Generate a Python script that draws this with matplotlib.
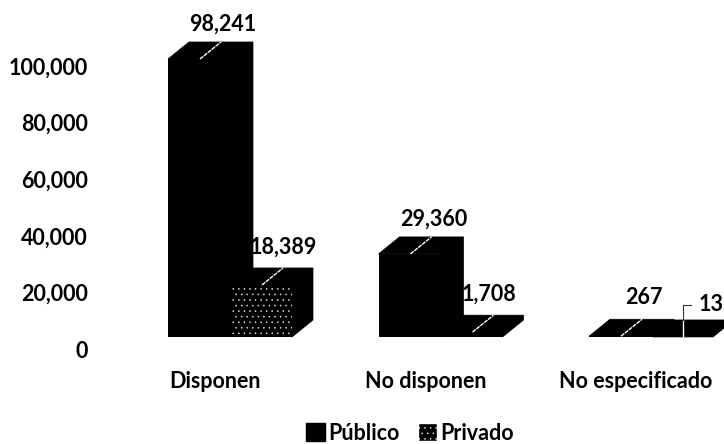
import matplotlib
matplotlib.use("Agg")
import matplotlib.pyplot as plt
from matplotlib.patches import Patch, Polygon

categories = ["Disponen", "No disponen", "No especificado"]
publico = [98241, 29360, 267]
privado = [18389, 1708, 13]
y_ticks = [0, 20000, 40000, 60000, 80000, 100000]

W, H = 724, 444
PX_X = 210.5           # pixels per category
PX_Y = 2.83 / 1000     # pixels per unit
WIDTH_PUB = 64 / PX_X
WIDTH_PRI = 60 / PX_X
DX = 21 / PX_X
DY = 17 / PX_Y
BASE = 12 / PX_Y
FS = 15.5


def draw_bar(ax, left, width, value, hatch=None):
    top = BASE + value
    right = left + width
    ax.bar(left, value, width, bottom=BASE, align="edge", color="black",
           edgecolor="white" if hatch else "black", hatch=hatch, linewidth=0, zorder=2)
    outline = [(left, top), (left + DX, top + DY), (right + DX, top + DY),
               (right + DX, BASE + DY), (right, BASE), (right, top)]
    ax.add_patch(Polygon(outline, closed=True, color="black", linewidth=0.5, zorder=1))
    return left + width / 2, top


def leader(ax, mid, top):
    # dashed white line along the top face
    ax.plot([mid, mid + DX], [top, top + DY], color="white", linewidth=1,
            linestyle=(0, (3, 0.6)), zorder=3)


def main():
    plt.rcParams["font.family"] = ["Lato", "DejaVu Sans"]
    plt.rcParams["font.weight"] = "bold"
    plt.rcParams["hatch.linewidth"] = 0.3
    fig = plt.figure(figsize=(W / 100, H / 100), dpi=100)
    left_px, bottom_px = 100, 349
    ax = fig.add_axes([left_px / W, (H - bottom_px) / H, 1 - left_px / W, bottom_px / H])
    ax.set_xlim((left_px - 232) / PX_X, (W - 232) / PX_X)
    ax.set_ylim(0, bottom_px / PX_Y)
    for s in ax.spines.values():
        s.set_visible(False)

    for i in range(len(categories)):
        mid, top = draw_bar(ax, i - WIDTH_PUB, WIDTH_PUB, publico[i])
        leader(ax, mid, top)
        ax.annotate(f"{publico[i]:,}", (mid + DX, top + DY),
                    xytext=(1.5, 16 if i == 2 else 12.5),
                    textcoords="offset points", ha="center", va="center",
                    fontsize=FS, zorder=5)
        mid, top = draw_bar(ax, i, WIDTH_PRI, privado[i], hatch="..." if i == 0 else None)
        if i < 2:
            leader(ax, mid, top)
            dx = -5 / PX_X if i == 1 else 0
            ax.annotate(f"{privado[i]:,}", (mid + DX + dx, top + DY), xytext=(0, 15),
                        textcoords="offset points", ha="center", va="center",
                        fontsize=FS, zorder=5)
        else:
            # smallest value: elbow leader out to the side
            back = top + DY
            rise = 15 / PX_Y
            ax.plot([mid, mid], [BASE, back], color="white", linewidth=1, zorder=3)
            ax.plot([mid, mid, mid + 8 / PX_X], [back, back + rise, back + rise],
                    color="#333333", linewidth=0.8, zorder=3)
            ax.annotate(f"{privado[i]:,}", (mid, back + rise), xytext=(11, 0),
                        textcoords="offset points", ha="left", va="center",
                        fontsize=FS, zorder=5)

    ax.set_yticks(y_ticks, [f"{v:,}" for v in y_ticks], fontsize=FS)
    ax.set_xticks([i - 17 / PX_X for i in range(len(categories))], categories, fontsize=FS)
    ax.tick_params(axis="y", length=0, pad=9)
    ax.tick_params(axis="x", length=0, pad=16)

    handles = [Patch(facecolor="black", edgecolor="black"),
               Patch(facecolor="black", edgecolor="white", hatch="...")]
    fig.legend(handles, ["Público", "Privado"], loc="center", bbox_to_anchor=(410 / W, 1 - 433 / H),
               ncols=2, frameon=False, fontsize=FS, handlelength=0.88, handleheight=0.88,
               handletextpad=0.14, columnspacing=0.88, borderpad=0)
    fig.savefig("out.png", dpi=100)


if __name__ == "__main__":
    main()
